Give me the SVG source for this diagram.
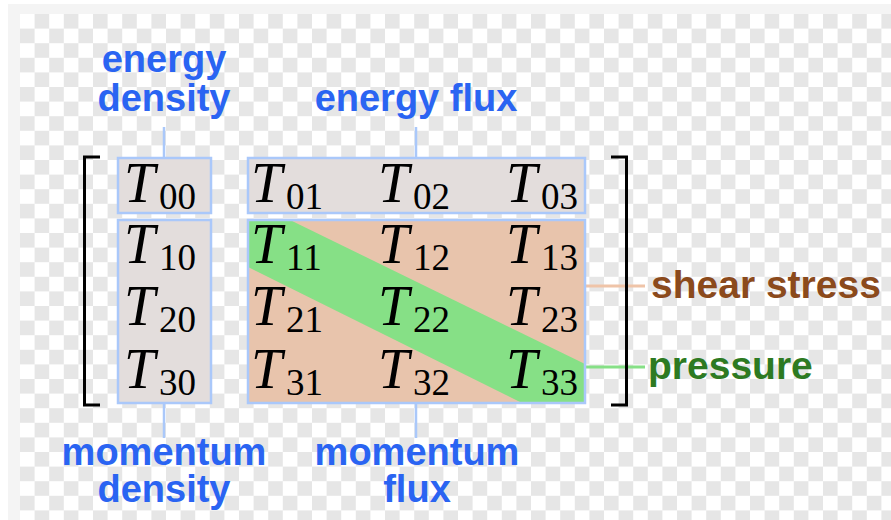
<svg xmlns="http://www.w3.org/2000/svg" width="891" height="520" viewBox="0 0 891 520">
<defs>
<pattern id="chk" patternUnits="userSpaceOnUse" x="20" y="14" width="29.2" height="29.2">
<rect width="29.2" height="29.2" fill="#ffffff"/>
<rect x="14.6" y="0" width="14.6" height="14.6" fill="#e6e6e6"/>
<rect x="0" y="14.6" width="14.6" height="14.6" fill="#e6e6e6"/>
</pattern>
</defs>
<style>
.box{stroke:#aac8fa;stroke-width:2.5}
.gray{fill:#e3dddc}
.peach{fill:#e8c4ac}
.T{font-family:"Liberation Serif","DejaVu Serif",serif;font-style:italic;font-size:56px;fill:#000}
.s{font-style:normal;font-size:37px}
.lbl{font-family:"Liberation Sans",Arial,sans-serif;font-weight:bold;font-size:38px;text-anchor:middle}
.blue{fill:#2a64f2}
.con{stroke:#aac8fa;stroke-width:2.5;fill:none}
.br{stroke:#000;stroke-width:3;fill:none}
</style>
<rect width="891" height="520" fill="#ffffff"/>
<rect x="8" y="4" width="883" height="516" fill="#f4f4f4"/>
<rect x="20" y="14" width="871" height="506" fill="url(#chk)"/>

<g id="connectors">
<line class="con" x1="164" y1="127" x2="164" y2="158"/>
<line class="con" x1="416" y1="127" x2="416" y2="158"/>
<line class="con" x1="164" y1="403" x2="164" y2="438"/>
<line class="con" x1="416" y1="403" x2="416" y2="438"/>
<line x1="585" y1="286" x2="645" y2="286" stroke="#efc4a8" stroke-width="3"/>
<line x1="585" y1="367" x2="645" y2="367" stroke="#86e086" stroke-width="3"/>
</g>

<g id="brackets">
<path class="br" d="M100,157 H84.5 V405 H100"/>
<path class="br" d="M611,157 H626.5 V405 H611"/>
</g>

<g id="box-energy-density">
<rect class="box gray" x="118" y="158" width="93" height="55"/>
</g>
<g id="box-energy-flux">
<rect class="box gray" x="248" y="158" width="337" height="55"/>
</g>
<g id="box-momentum-density">
<rect class="box gray" x="118" y="220" width="93" height="183"/>
</g>
<g id="box-momentum-flux">
<rect class="peach" x="248" y="220" width="337" height="183"/>
<polygon points="248,220 290,220 585,364 585,403 522,403 248,267" fill="#86e086"/>
<rect class="box" x="248" y="220" width="337" height="183" fill="none"/>
</g>

<g id="entries">
<text class="T" x="124" y="202">T<tspan class="s" x="159" y="209">00</tspan></text>
<text class="T" x="251" y="202">T<tspan class="s" x="286" y="209">01</tspan></text>
<text class="T" x="378" y="202">T<tspan class="s" x="413" y="209">02</tspan></text>
<text class="T" x="506" y="202">T<tspan class="s" x="541" y="209">03</tspan></text>

<text class="T" x="124" y="263">T<tspan class="s" x="159" y="270">10</tspan></text>
<text class="T" x="251" y="263">T<tspan class="s" x="286" y="270">11</tspan></text>
<text class="T" x="378" y="263">T<tspan class="s" x="413" y="270">12</tspan></text>
<text class="T" x="506" y="263">T<tspan class="s" x="541" y="270">13</tspan></text>

<text class="T" x="124" y="325">T<tspan class="s" x="159" y="332">20</tspan></text>
<text class="T" x="251" y="325">T<tspan class="s" x="286" y="332">21</tspan></text>
<text class="T" x="378" y="325">T<tspan class="s" x="413" y="332">22</tspan></text>
<text class="T" x="506" y="325">T<tspan class="s" x="541" y="332">23</tspan></text>

<text class="T" x="124" y="388">T<tspan class="s" x="159" y="395">30</tspan></text>
<text class="T" x="251" y="388">T<tspan class="s" x="286" y="395">31</tspan></text>
<text class="T" x="378" y="388">T<tspan class="s" x="413" y="395">32</tspan></text>
<text class="T" x="506" y="388">T<tspan class="s" x="541" y="395">33</tspan></text>
</g>

<g id="label-energy-density">
<text class="lbl blue" x="164" y="72">energy</text>
<text class="lbl blue" x="164" y="111">density</text>
</g>
<g id="label-energy-flux">
<text class="lbl blue" x="416" y="111">energy flux</text>
</g>
<g id="label-momentum-density">
<text class="lbl blue" x="164" y="465">momentum</text>
<text class="lbl blue" x="164" y="502">density</text>
</g>
<g id="label-momentum-flux">
<text class="lbl blue" x="417" y="465">momentum</text>
<text class="lbl blue" x="417" y="502">flux</text>
</g>
<g id="label-shear-stress">
<text class="lbl" x="651" y="298" style="text-anchor:start;font-size:39px" fill="#8b4a1c">shear stress</text>
</g>
<g id="label-pressure">
<text class="lbl" x="648" y="379" style="text-anchor:start;font-size:39px" fill="#2d7a22">pressure</text>
</g>
</svg>
